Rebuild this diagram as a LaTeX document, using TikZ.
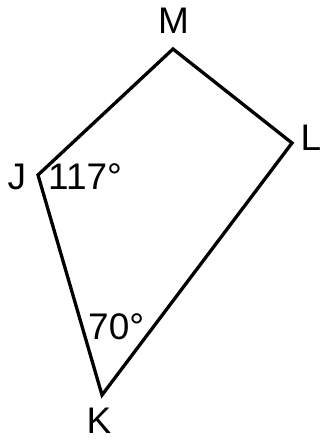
\documentclass[tikz,border=0pt]{standalone}
\usepackage{fontspec}
\setmainfont{Liberation Sans}
\usepackage{tikz}
\usetikzlibrary{positioning}

\begin{document}
\begin{tikzpicture}[x=1pt, y=-1pt,
    lbl/.style={font=\fontsize{37}{40}\selectfont, inner sep=0pt},
    side/.style={line width=3.3pt, line join=miter}]
    \useasboundingbox (0,0) rectangle (322,441);

    % Vertices
    \coordinate (m) at (173,49);
    \coordinate (l) at (292,143);
    \coordinate (k) at (102,395);
    \coordinate (j) at (38,175);

    % Quadrilateral
    \draw[side] (m) -- (l) -- (k) -- (j) -- cycle;

    % Vertex names
    \node[lbl] (mlabel) at (173.5,21) {M};
    \node[lbl] (llabel) at (311,137.5) {L};
    \node[lbl] (jlabel) at (17,176.5) {J};
    \node[lbl] (klabel) at (99,420.5) {K};

    % Angles
    \node[lbl, anchor=west] (jangle) at (48,176.5) {117°};
    \node[lbl, anchor=west] (kangle) at (88,326.5) {70°};
\end{tikzpicture}
\end{document}
